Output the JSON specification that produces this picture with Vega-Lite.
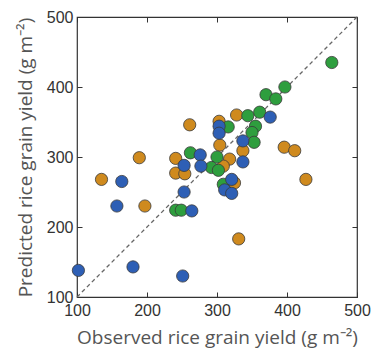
{
  "$schema": "https://vega.github.io/schema/vega-lite/v6.json",
  "autosize": "none",
  "width": 280,
  "height": 280,
  "padding": {"left": 77, "top": 17, "right": 18, "bottom": 53},
  "config": {
    "view": {"stroke": "#333", "strokeWidth": 1.2},
    "axis": {
      "grid": false,
      "domain": false,
      "tickSize": -5,
      "tickColor": "#333",
      "labelFlush": false,
      "labelOverlap": false,
      "labelFont": "Liberation Sans",
      "labelFontSize": 16,
      "labelColor": "#333",
      "titleFont": "Open Sans",
      "titleFontSize": 19,
      "titleFontWeight": "normal",
      "titleColor": "#555"
    }
  },
  "datasets": {
    "pts": [
      {"obs": 261, "pred": 346, "g": "A"},
      {"obs": 303, "pred": 351, "g": "A"},
      {"obs": 328, "pred": 360, "g": "A"},
      {"obs": 304, "pred": 317, "g": "A"},
      {"obs": 396, "pred": 314, "g": "A"},
      {"obs": 411, "pred": 309, "g": "A"},
      {"obs": 337, "pred": 309, "g": "A"},
      {"obs": 189, "pred": 299, "g": "A"},
      {"obs": 241, "pred": 298, "g": "A"},
      {"obs": 318, "pred": 297, "g": "A"},
      {"obs": 309, "pred": 287, "g": "A"},
      {"obs": 241, "pred": 277, "g": "A"},
      {"obs": 254, "pred": 276, "g": "A"},
      {"obs": 135, "pred": 268, "g": "A"},
      {"obs": 427, "pred": 268, "g": "A"},
      {"obs": 325, "pred": 263, "g": "A"},
      {"obs": 197, "pred": 230, "g": "A"},
      {"obs": 331, "pred": 183, "g": "A"},
      {"obs": 464, "pred": 435, "g": "B"},
      {"obs": 397, "pred": 400, "g": "B"},
      {"obs": 370, "pred": 389, "g": "B"},
      {"obs": 384, "pred": 383, "g": "B"},
      {"obs": 361, "pred": 364, "g": "B"},
      {"obs": 344, "pred": 359, "g": "B"},
      {"obs": 316, "pred": 343, "g": "B"},
      {"obs": 355, "pred": 344, "g": "B"},
      {"obs": 350, "pred": 335, "g": "B"},
      {"obs": 353, "pred": 321, "g": "B"},
      {"obs": 262, "pred": 306, "g": "B"},
      {"obs": 300, "pred": 300, "g": "B"},
      {"obs": 292, "pred": 285, "g": "B"},
      {"obs": 302, "pred": 281, "g": "B"},
      {"obs": 309, "pred": 261, "g": "B"},
      {"obs": 241, "pred": 224, "g": "B"},
      {"obs": 249, "pred": 224, "g": "B"},
      {"obs": 376, "pred": 357, "g": "C"},
      {"obs": 303, "pred": 344, "g": "C"},
      {"obs": 303, "pred": 334, "g": "C"},
      {"obs": 337, "pred": 323, "g": "C"},
      {"obs": 276, "pred": 303, "g": "C"},
      {"obs": 337, "pred": 293, "g": "C"},
      {"obs": 253, "pred": 288, "g": "C"},
      {"obs": 277, "pred": 287, "g": "C"},
      {"obs": 321, "pred": 268, "g": "C"},
      {"obs": 164, "pred": 265, "g": "C"},
      {"obs": 311, "pred": 253, "g": "C"},
      {"obs": 321, "pred": 248, "g": "C"},
      {"obs": 253, "pred": 250, "g": "C"},
      {"obs": 157, "pred": 230, "g": "C"},
      {"obs": 264, "pred": 223, "g": "C"},
      {"obs": 102, "pred": 138, "g": "C"},
      {"obs": 180, "pred": 143, "g": "C"},
      {"obs": 251, "pred": 130, "g": "C"}
    ],
    "diag": [
      {"obs": 100, "pred": 100},
      {"obs": 500, "pred": 500}
    ]
  },
  "layer": [
    {
      "data": {"name": "diag"},
      "mark": {"type": "line", "color": "#666", "strokeWidth": 1.3, "strokeDash": [4, 3]},
      "encoding": {
        "x": {"field": "obs", "type": "quantitative", "scale": {"domain": [100, 500]},
              "axis": {"orient": "top", "labels": false, "title": null, "values": [100, 200, 300, 400, 500]}},
        "y": {"field": "pred", "type": "quantitative", "scale": {"domain": [100, 500]},
              "axis": {"orient": "right", "labels": false, "title": null, "values": [100, 200, 300, 400, 500]}}
      }
    },
    {
      "data": {"name": "pts"},
      "mark": {"type": "circle", "size": 150, "opacity": 1, "stroke": "#3a3a3a", "strokeWidth": 0.8},
      "encoding": {
        "x": {"field": "obs", "type": "quantitative",
              "axis": {"orient": "bottom", "title": "Observed rice grain yield (g m⁻²)", "values": [100, 200, 300, 400, 500], "labelPadding": 10, "titleY": 46, "titleBaseline": "alphabetic"}},
        "y": {"field": "pred", "type": "quantitative",
              "axis": {"orient": "left", "title": "Predicted rice grain yield (g m⁻²)", "values": [100, 200, 300, 400, 500], "labelPadding": 9, "titlePadding": 11}},
        "color": {"field": "g", "type": "nominal", "legend": null,
                  "scale": {"domain": ["A", "B", "C"], "range": ["#CF8A1E", "#2E9E3E", "#2E5FB5"]}},
        "order": {"field": "g", "type": "nominal"}
      }
    }
  ]
}
